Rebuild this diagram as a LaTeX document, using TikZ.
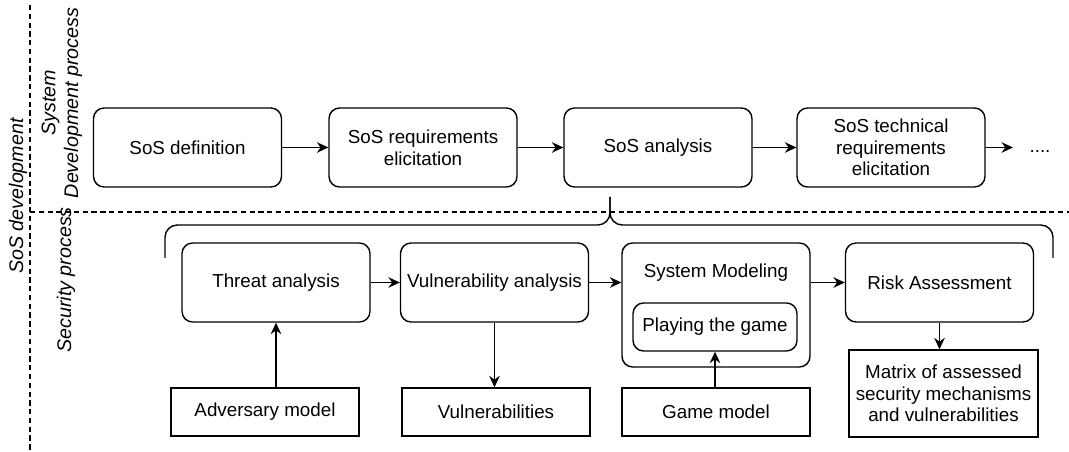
\documentclass[tikz,border=0pt]{standalone}
\usepackage{fontspec}
\setmainfont{Liberation Sans}
\usetikzlibrary{calc, positioning, shapes, arrows.meta}

\tikzset{
  stagebox/.style={draw=black, line width=0.8pt, rounded corners=6pt, align=center,
    minimum width=3.76cm, minimum height=1.58cm, font=\fontsize{10.7}{12.3}\selectfont},
  outbox/.style={draw=black, line width=0.8pt, align=center,
    minimum width=3.76cm, minimum height=0.96cm, font=\fontsize{10.7}{12.3}\selectfont},
  sidelabel/.style={rotate=90, align=center, font=\fontsize{11.2}{13}\selectfont\itshape},
  flow/.style={line width=0.8pt, -{Stealth[length=6.5pt,width=6pt]}}
}

\begin{document}
\begin{tikzpicture}[x=0.02cm,y=-0.02cm]
\useasboundingbox (0,0) rectangle (1069,452);
% separators
\draw[dash pattern=on 3pt off 2pt, line width=0.6pt] (30,5) to (30,452);
\draw[dash pattern=on 3pt off 2pt, line width=0.6pt] (30,212) to (1069,212);
\node[sidelabel] (sosdev) at (18,196) {SoS development};
\node[sidelabel] (syslbl) at (62,103) {System\\Development process};
\node[sidelabel] (seclbl) at (66,280) {Security process};

% system development row
\node[stagebox] (def) at (187.5,147.5) {SoS definition};
\node[stagebox] (req) at (423,147.5) {SoS requirements\\elicitation};
\node[stagebox] (ana) at (658,147.5) {SoS analysis};
\node[stagebox] (tech) at (891,147.5) {SoS technical\\requirements\\elicitation};
\coordinate (moreend) at (1013,147.5);
\node[anchor=base, font=\fontsize{10.7}{12.3}\selectfont] (more) at (1040,153) {....};
\draw[flow] (def) to (req);
\draw[flow] (req) to (ana);
\draw[flow] (ana) to (tech);
\draw[flow] (tech) to (moreend);

% brace
\coordinate (tip) at (610,197);
\draw[line width=0.8pt, rounded corners=7pt] (165,258) |- (610,225) -- (tip);
\draw[line width=0.8pt, rounded corners=7pt] (1053,258) |- (610,225) -- (tip);

% security row
\node[stagebox] (threat) at (276,282.5) {Threat analysis};
\node[stagebox] (vuln) at (494.5,282.5) {Vulnerability analysis};
\node[stagebox, minimum height=2.48cm] (model) at (716,305) {};
\node[font=\fontsize{10.7}{12.3}\selectfont] (modlbl) at (716,273) {System Modeling};
\node[stagebox, minimum width=3.28cm, minimum height=0.96cm] (play) at (715,327) {Playing the game};
\node[stagebox] (risk) at (939.5,282.5) {Risk Assessment};
\draw[flow] (threat) to (vuln);
\draw[flow] (vuln) to (vuln -| model.west);
\draw[flow] (risk -| model.east) to (risk);

% inputs and outputs
\node[outbox] (adv) at (265,412) {Adversary model};
\node[outbox] (vulns) at (496,412) {Vulnerabilities};
\node[outbox] (game) at (716,412) {Game model};
\node[outbox, minimum width=3.78cm, minimum height=1.74cm] (matrix) at (943.5,393.5) {Matrix of assessed\\security mechanisms\\and vulnerabilities};
\draw[flow] (threat.south |- adv.north) to (threat.south);
\draw[flow] (vuln.south) to (vuln.south |- vulns.north);
\draw[flow] (play.south |- game.north) to (play.south);
\draw[flow] (risk.south) to (risk.south |- matrix.north);
\end{tikzpicture}
\end{document}
